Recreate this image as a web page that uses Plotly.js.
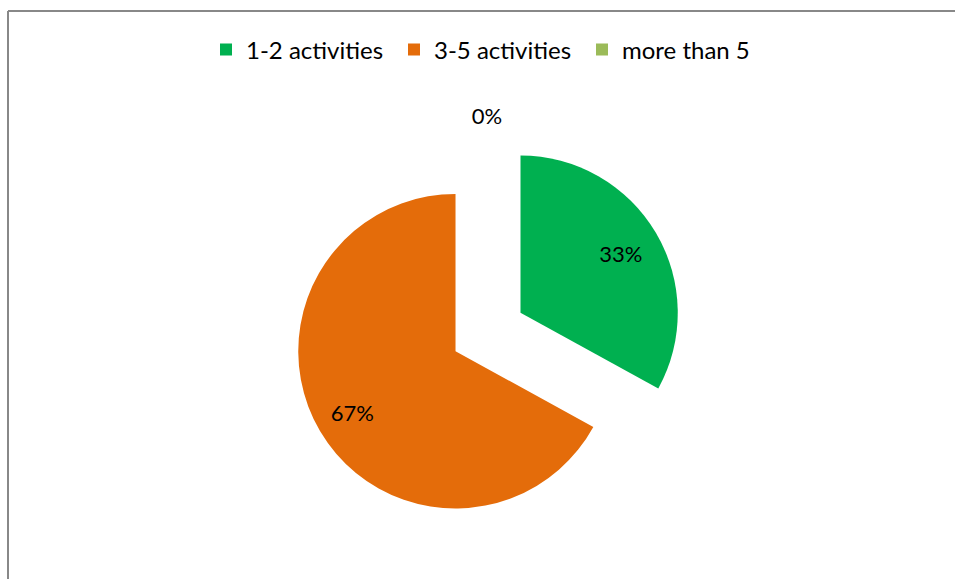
<!DOCTYPE html>
<html>
<head>
<meta charset="utf-8">
<script src="https://cdn.plot.ly/plotly-3.0.1.min.js"></script>
<style>html,body{margin:0;padding:0;background:#fff;}#chart{width:955px;height:579px;}</style>
</head>
<body>
<div id="chart"></div>
<script>
var categories = ["1-2 activities", "3-5 activities", "more than 5"];
var values = [33, 67, 0];
var colors = ["#00B050", "#E46C0A", "#9BBB59"];

var FONT = "Lato, 'Open Sans', sans-serif";
var clear = ["rgba(0,0,0,0)", "rgba(0,0,0,0)", "rgba(0,0,0,0)"];

// wedges
var wedges = {
  type: "pie",
  labels: categories,
  values: values,
  sort: false,
  direction: "clockwise",
  rotation: 0,
  pull: [0.24, 0.24, 0.24],
  marker: {colors: colors, line: {width: 0}},
  textinfo: "none",
  domain: {x: [0.2, 0.822], y: [0.0898, 0.7634]},
  automargin: false,
  hoverinfo: "skip"
};

// percentage labels inside the two slices
var insideLabels = {
  type: "pie",
  labels: categories,
  values: values,
  sort: false,
  direction: "clockwise",
  rotation: 0,
  pull: [0.446, 0.504, 0],
  marker: {colors: clear, line: {width: 0}},
  texttemplate: ["%{percent:.0%}", "%{percent:.0%}", ""],
  textposition: "inside",
  insidetextorientation: "horizontal",
  textfont: {family: FONT, size: 22, color: "#000"},
  domain: {x: [0.2, 0.822], y: [0.01883, 0.83437]},
  automargin: false,
  showlegend: false,
  hoverinfo: "skip"
};

// label of the empty slice, drawn outside at the top
var outsideLabel = {
  type: "pie",
  labels: categories,
  values: values,
  sort: false,
  direction: "clockwise",
  rotation: 0,
  pull: [0.24, 0.24, 0.24],
  marker: {colors: clear, line: {width: 0}},
  texttemplate: ["", "", "%{percent:.0%}"],
  textposition: "outside",
  textfont: {family: FONT, size: 22, color: "#000"},
  domain: {x: [0.2 + 21/955, 0.822 + 21/955], y: [0.0898 + 8/579, 0.7634 + 8/579]},
  automargin: false,
  showlegend: false,
  hoverinfo: "skip"
};

var layout = {
  width: 955,
  height: 579,
  margin: {l: 0, r: 0, t: 0, b: 0},
  paper_bgcolor: "#ffffff",
  showlegend: true,
  legend: {
    orientation: "h",
    x: 206/955, xanchor: "left",
    y: 1 - 50/579, yanchor: "middle",
    font: {family: FONT, size: 24, color: "#000"},
    itemwidth: 30,
    entrywidth: 143,
    entrywidthmode: "pixels",
    traceorder: "normal"
  },
  shapes: [
    {type: "line", xref: "paper", yref: "paper", x0: 8/955, x1: 8/955, y0: 0, y1: 1 - 11/579, line: {color: "#888888", width: 2}},
    {type: "line", xref: "paper", yref: "paper", x0: 8/955, x1: 1, y0: 1 - 11/579, y1: 1 - 11/579, line: {color: "#888888", width: 2}}
  ]
};

Plotly.newPlot("chart", [wedges, insideLabels, outsideLabel], layout, {displayModeBar: false, staticPlot: true});
</script>
</body>
</html>
